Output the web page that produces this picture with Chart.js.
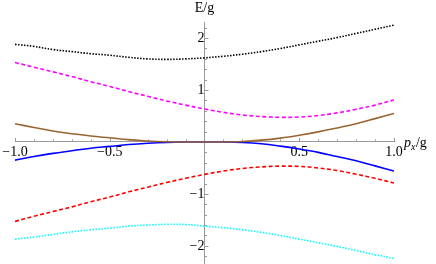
<!DOCTYPE html>
<html>
<head>
<meta charset="utf-8">
<script src="https://cdn.jsdelivr.net/npm/chart.js@4"></script>
<style>
  html, body { margin: 0; padding: 0; background: #fff; }
  canvas { display: block; }
</style>
</head>
<body>
<canvas id="chart" width="436" height="264"></canvas>
<script>
// momentum p_x/g
const px = [-1.0, -0.9, -0.8, -0.7, -0.6, -0.5, -0.4, -0.3, -0.2, -0.1, 0.0,
            0.1, 0.2, 0.3, 0.4, 0.5, 0.6, 0.7, 0.8, 0.9, 1.0];

// energy bands E/g
const bandBlack   = [1.88, 1.84, 1.78, 1.74, 1.70, 1.67, 1.63, 1.60, 1.59, 1.60, 1.62,
                     1.65, 1.69, 1.74, 1.80, 1.87, 1.94, 2.01, 2.09, 2.17, 2.25];
const bandMagenta = [1.53, 1.44, 1.35, 1.26, 1.16, 1.07, 0.97, 0.88, 0.79, 0.71, 0.635,
                     0.57, 0.52, 0.49, 0.475, 0.48, 0.51, 0.56, 0.63, 0.71, 0.81];
const bandBrown   = [0.35, 0.28, 0.21, 0.16, 0.115, 0.08, 0.045, 0.02, 0.005, 0, 0,
                     0, 0.01, 0.035, 0.075, 0.13, 0.195, 0.27, 0.35, 0.45, 0.55];
const bandBlue    = [-0.35, -0.28, -0.22, -0.17, -0.12, -0.085, -0.05, -0.025, -0.008, 0, 0,
                     0, -0.01, -0.035, -0.08, -0.135, -0.2, -0.28, -0.36, -0.46, -0.56];
const bandRed     = [-1.53, -1.43, -1.34, -1.25, -1.15, -1.06, -0.96, -0.87, -0.78, -0.70, -0.625,
                     -0.56, -0.51, -0.48, -0.465, -0.47, -0.50, -0.55, -0.62, -0.70, -0.79];
const bandCyan    = [-1.87, -1.83, -1.78, -1.73, -1.69, -1.66, -1.62, -1.60, -1.585, -1.59, -1.62,
                     -1.65, -1.69, -1.74, -1.80, -1.87, -1.94, -2.01, -2.09, -2.17, -2.24];

const FONT = '"Liberation Serif", "DejaVu Serif", serif';
const AXIS_COLOR = '#9a9a9a';

function toPoints(values) {
    return values.map((v, i) => ({ x: px[i], y: v }));
}

function band(values, color, dash) {
    return {
        data: toPoints(values),
        borderColor: color,
        borderWidth: 1.6,
        borderDash: dash,
        pointRadius: 0,
        fill: false,
        tension: 0.4
    };
}

function minus(str) {
    return str.replace('-', '\u2212');
}

// axes cross in the middle: no room taken, no label padding
function noRoomX(s) { s.height = 0; s.paddingLeft = 0; s.paddingRight = 0; }
function noRoomY(s) { s.width = 0; s.paddingTop = 0; s.paddingBottom = 0; }

// minor/major tick marks and axis titles, Mathematica style
const axesDecor = {
    id: 'axesDecor',
    beforeDatasetsDraw(chart) {
        const { ctx, scales: { x, y } } = chart;
        const x0 = x.getPixelForValue(0);
        const y0 = y.getPixelForValue(0);
        ctx.save();
        ctx.strokeStyle = AXIS_COLOR;
        ctx.lineWidth = 1;
        ctx.beginPath();
        for (let i = -10; i <= 10; i++) {
            if (i === 0) continue;
            const xp = Math.round(x.getPixelForValue(i / 10)) + 0.5;
            const len = i % 5 === 0 ? 4 : 2.5;
            ctx.moveTo(xp, y0);
            ctx.lineTo(xp, y0 - len);
        }
        for (let j = -11; j <= 11; j++) {
            if (j === 0) continue;
            const v = j / 5;
            if (v < y.min || v > y.max) continue;
            const yp = Math.round(y.getPixelForValue(v)) + 0.5;
            const len = j % 5 === 0 ? 4 : 2.5;
            ctx.moveTo(x0, yp);
            ctx.lineTo(x0 + len, yp);
        }
        ctx.stroke();
        ctx.restore();
    },
    afterDraw(chart) {
        const { ctx, scales: { x, y } } = chart;
        const x0 = x.getPixelForValue(0);
        const y0 = y.getPixelForValue(0);
        const xr = x.getPixelForValue(1);
        ctx.save();
        ctx.fillStyle = '#000';
        ctx.textBaseline = 'alphabetic';
        ctx.font = '14px ' + FONT;
        ctx.textAlign = 'center';
        ctx.fillText('E/g', x0, 12);

        ctx.textAlign = 'left';
        let xt = xr + 10;
        ctx.font = 'italic 14px ' + FONT;
        ctx.fillText('p', xt, y0 + 5);
        xt += ctx.measureText('p').width;
        ctx.font = 'italic 10px ' + FONT;
        ctx.fillText('x', xt, y0 + 8);
        xt += ctx.measureText('x').width + 0.5;
        ctx.font = '14px ' + FONT;
        ctx.fillText('/g', xt, y0 + 5);
        ctx.restore();
    }
};

new Chart(document.getElementById('chart'), {
    type: 'line',
    data: {
        datasets: [
            band(bandBlack, '#000000', [1.5, 1.5]),
            band(bandMagenta, '#ff00ff', [4, 2.5]),
            band(bandBrown, '#996633', []),
            band(bandBlue, '#0000ff', []),
            band(bandRed, '#ff0000', [4, 2.5]),
            band(bandCyan, '#00ffff', [1.5, 1.5])
        ]
    },
    options: {
        responsive: false,
        animation: false,
        devicePixelRatio: 1,
        layout: { padding: { left: 15, right: 42, top: 22, bottom: 1 } },
        plugins: {
            legend: { display: false },
            tooltip: { enabled: false }
        },
        scales: {
            x: {
                type: 'linear',
                min: -1,
                max: 1,
                position: { y: 0 },
                afterFit: noRoomX,
                grid: { display: false, drawTicks: false },
                border: { display: true, color: AXIS_COLOR, width: 1 },
                ticks: {
                    stepSize: 0.5,
                    includeBounds: false,
                    autoSkip: false,
                    maxRotation: 0,
                    padding: 2,
                    color: '#000',
                    font: { family: FONT, size: 14 },
                    callback: (v) => (v === 0 ? '' : minus(v.toFixed(1)))
                }
            },
            y: {
                type: 'linear',
                min: -2.33,
                max: 2.31,
                position: { x: 0 },
                afterFit: noRoomY,
                grid: { display: false, drawTicks: false },
                border: { display: true, color: AXIS_COLOR, width: 1 },
                ticks: {
                    stepSize: 1,
                    includeBounds: false,
                    autoSkip: false,
                    padding: 5,
                    color: '#000',
                    font: { family: FONT, size: 14 },
                    callback: (v) => (v === 0 ? '' : minus(String(v)))
                }
            }
        }
    },
    plugins: [axesDecor]
});
</script>
</body>
</html>
